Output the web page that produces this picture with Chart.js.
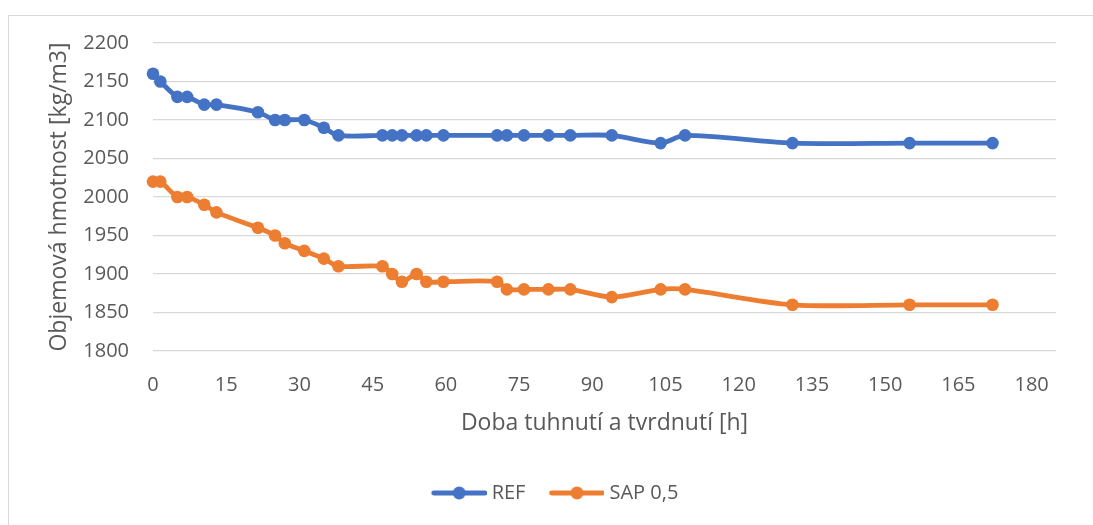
<!DOCTYPE html>
<html>
<head>
<meta charset="utf-8">
<script src="https://cdn.jsdelivr.net/npm/chart.js@4.4.1/dist/chart.umd.min.js"></script>
<style>
	html, body { margin: 0; padding: 0; background: #fff; overflow: hidden; }
	#ramecek { position: absolute; left: 8px; top: 15px; width: 1200px; height: 600px; border: 1px solid #d9d9d9; }
	#obal { position: absolute; left: 0; top: 0; }
</style>
</head>
<body>
<div id="ramecek"></div>
<div id="obal"><canvas id="graf-hmotnost" width="1093" height="525"></canvas></div>
<script>
// doba tuhnutí [h]
const hodiny = [0, 1.5, 5, 7, 10.5, 13, 21.5, 25, 27, 31, 35, 38, 47, 49, 51, 54, 56, 59.5,
	70.5, 72.5, 76, 81, 85.5, 94, 104, 109, 131, 155, 172];
// objemová hmotnost [kg/m3]
const hmotnostRef = [2160, 2150, 2130, 2130, 2120, 2120, 2110, 2100, 2100, 2100, 2090, 2080, 2080, 2080,
	2080, 2080, 2080, 2080, 2080, 2080, 2080, 2080, 2080, 2080, 2070, 2080, 2070, 2070, 2070];
const hmotnostSap = [2020, 2020, 2000, 2000, 1990, 1980, 1960, 1950, 1940, 1930, 1920, 1910, 1910, 1900,
	1890, 1900, 1890, 1890, 1890, 1880, 1880, 1880, 1880, 1870, 1880, 1880, 1860, 1860, 1860];
const nazvyRad = ['REF', 'SAP 0,5'];
const barvy = ['#4472c4', '#ed7d31'];
// popisky os
const osaX = [0, 15, 30, 45, 60, 75, 90, 105, 120, 135, 150, 165, 180];
const osaY = [1800, 1850, 1900, 1950, 2000, 2050, 2100, 2150, 2200];

const PISMO = "'Open Sans', 'DejaVu Sans', sans-serif";
const SEDA = '#595959';

const body = (hodnoty) => hodiny.map((h, i) => ({ x: h, y: hodnoty[i] }));

// ikona do legendy: čára s kolečkem uprostřed
const ikonaLegendy = (barva) => {
	const c = document.createElement('canvas');
	c.width = 74;
	c.height = 16;
	const g = c.getContext('2d');
	g.strokeStyle = barva;
	g.lineWidth = 4.8;
	g.lineCap = 'round';
	g.beginPath();
	g.moveTo(21, 8);
	g.lineTo(72, 8);
	g.stroke();
	g.fillStyle = barva;
	g.beginPath();
	g.arc(46.5, 8, 6.5, 0, Math.PI * 2);
	g.fill();
	return c;
};

const set_dataset = (label, hodnoty, barva) => ({
	label: label,
	data: body(hodnoty),
	showLine: true,
	clip: false,
	borderColor: barva,
	backgroundColor: barva,
	borderWidth: 4.8,
	pointRadius: 6.3,
	pointHoverRadius: 6.3,
	pointBorderWidth: 0,
	tension: 0.3,
	ikona: ikonaLegendy(barva)
});

new Chart(document.getElementById('graf-hmotnost'), {
	type: 'scatter',
	data: {
		datasets: [
			set_dataset(nazvyRad[0], hmotnostRef, barvy[0]),
			set_dataset(nazvyRad[1], hmotnostSap, barvy[1])
		]
	},
	options: {
		responsive: false,
		animation: false,
		layout: { padding: { left: 40, right: 37, top: 43, bottom: 12 } },
		scales: {
			x: {
				type: 'linear',
				min: 0,
				max: 185,
				grid: { display: false, drawTicks: false },
				border: { display: false },
				afterBuildTicks: (scale) => {
					scale.ticks = osaX.map(v => ({ value: v }));
				},
				afterFit: (scale) => { scale.height = 122; },
				ticks: {
					padding: 22,
					color: SEDA,
					font: { family: PISMO, size: 20 },
					callback: (v) => String(v)
				},
				title: {
					display: true,
					text: 'Doba tuhnutí a tvrdnutí [h]',
					color: SEDA,
					font: { family: PISMO, size: 23 },
					padding: { top: 0, bottom: 36 }
				}
			},
			y: {
				min: 1800,
				max: 2200,
				grid: { color: '#d9d9d9', lineWidth: 1.3, drawTicks: false },
				border: { display: false },
				afterBuildTicks: (scale) => {
					scale.ticks = osaY.map(v => ({ value: v }));
				},
				afterFit: (scale) => { scale.width = 113; },
				ticks: {
					padding: 24,
					color: SEDA,
					font: { family: PISMO, size: 20 },
					callback: (v) => String(v)
				},
				title: {
					display: true,
					text: 'Objemová hmotnost [kg/m3]',
					color: SEDA,
					font: { family: PISMO, size: 23 },
					padding: { top: 6, bottom: 0 }
				}
			}
		},
		plugins: {
			tooltip: { enabled: false },
			legend: {
				display: true,
				position: 'bottom',
				labels: {
					usePointStyle: true,
					pointStyleWidth: 64,
					padding: 10,
					color: SEDA,
					font: { family: PISMO, size: 20 },
					generateLabels: (chart) => {
						const polozky = Chart.defaults.plugins.legend.labels.generateLabels(chart);
						polozky.forEach(p => { p.pointStyle = chart.data.datasets[p.datasetIndex].ikona; });
						return polozky;
					}
				}
			}
		}
	}
});
</script>
</body>
</html>
